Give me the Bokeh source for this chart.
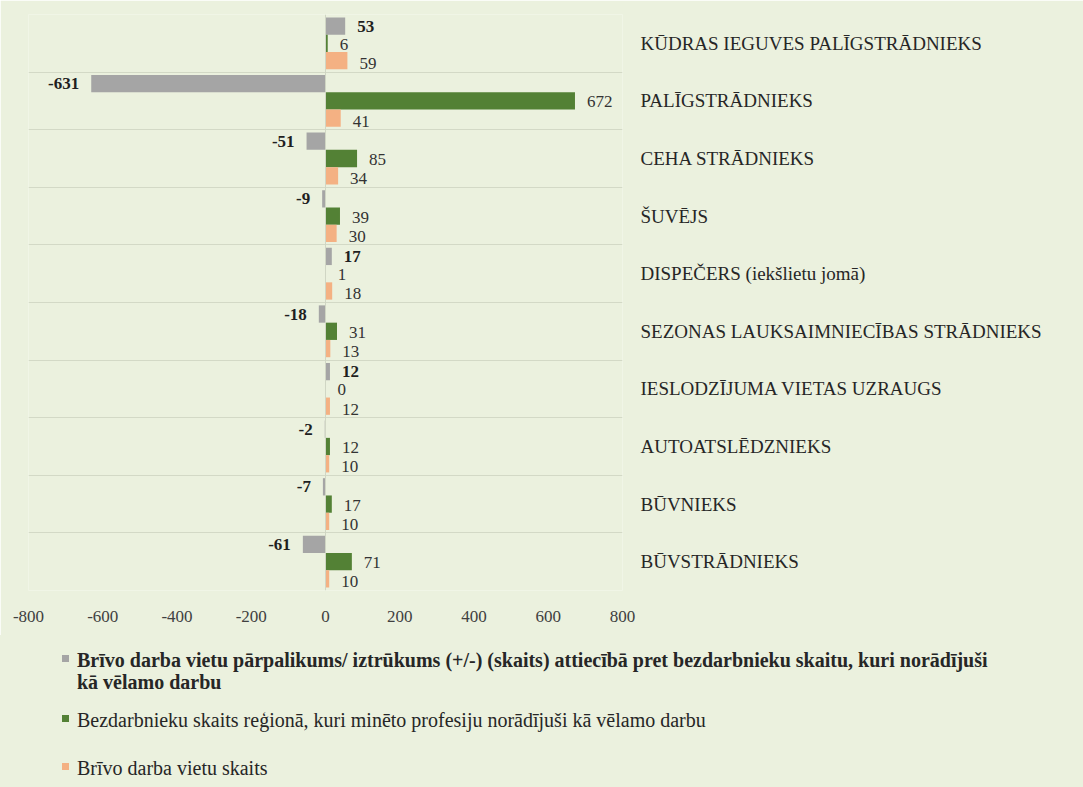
from bokeh.plotting import figure
from bokeh.models import Range1d, FixedTicker, Span, ColumnDataSource, Div
from bokeh.layouts import column
from bokeh.transform import dodge
from bokeh.embed import file_html
from bokeh.resources import INLINE
from bokeh.core.properties import value

categories = [
    "KŪDRAS IEGUVES PALĪGSTRĀDNIEKS",
    "PALĪGSTRĀDNIEKS",
    "CEHA STRĀDNIEKS",
    "ŠUVĒJS",
    "DISPEČERS (iekšlietu jomā)",
    "SEZONAS LAUKSAIMNIECĪBAS STRĀDNIEKS",
    "IESLODZĪJUMA VIETAS UZRAUGS",
    "AUTOATSLĒDZNIEKS",
    "BŪVNIEKS",
    "BŪVSTRĀDNIEKS",
]
balance = [53, -631, -51, -9, 17, -18, 12, -2, -7, -61]
unemployed = [6, 672, 85, 39, 1, 31, 0, 12, 17, 71]
vacancies = [59, 41, 34, 30, 18, 13, 12, 10, 10, 10]
x_ticks = [-800, -600, -400, -200, 0, 200, 400, 600, 800]
series_names = [
    "Brīvo darba vietu pārpalikums/ iztrūkums (+/-) (skaits) attiecībā pret bezdarbnieku skaitu, kuri norādījuši kā vēlamo darbu",
    "Bezdarbnieku skaits reģionā, kuri minēto profesiju norādījuši kā vēlamo darbu",
    "Brīvo darba vietu skaits",
]
colors = ["#A5A5A5", "#538135", "#F4B183"]

BG = "#EBF1DE"
FONT = "Liberation Serif"
W = 1083
H_MAIN = 635
H_LEG = 787 - H_MAIN

n = len(categories)
ypos = [i + 0.5 for i in range(n)]

p = figure(width=W, height=H_MAIN, x_range=Range1d(-800, 800), y_range=Range1d(n, 0),
           y_axis_location="right", output_backend="svg", toolbar_location=None,
           min_border_left=28, min_border_top=14, min_border_right=461, min_border_bottom=45)
p.background_fill_color = BG
p.border_fill_color = BG
p.outline_line_color = None
p.margin = 0

src = ColumnDataSource(dict(y=ypos, balance=balance, unemployed=unemployed, vacancies=vacancies))
offsets = [-0.3, 0.0, 0.3]
fields = ["balance", "unemployed", "vacancies"]
for f, off, c in zip(fields, offsets, colors):
    p.hbar(y=dodge("y", off, range=p.y_range), left=0, right=f, height=0.3,
           fill_color=c, line_color=None, source=src)

# data labels
label_colors = ["#1F1F1F", "#333333", "#333333"]
yoffs = [0, 1, 3]
for f, off, vals, lc, yo, bold in zip(fields, offsets, [balance, unemployed, vacancies],
                                      label_colors, yoffs, [True, False, False]):
    for sign in (1, -1):
        idx = [i for i, v in enumerate(vals) if (v >= 0 if sign == 1 else v < 0)]
        if not idx:
            continue
        s = ColumnDataSource(dict(x=[vals[i] for i in idx], y=[ypos[i] for i in idx],
                                  t=[str(vals[i]) for i in idx]))
        p.text(x="x", y=dodge("y", off, range=p.y_range), text="t", source=s,
               x_offset=12 * sign, y_offset=yo,
               text_align="left" if sign == 1 else "right", text_baseline="middle",
               text_font=value(FONT), text_font_size="17px",
               text_font_style="bold" if bold else "normal", text_color=lc)

p.add_layout(Span(location=0, dimension="height", line_color="#D0D6C4", line_width=1))

p.xgrid.visible = False
p.ygrid.ticker = FixedTicker(ticks=list(range(n + 1)))
p.ygrid.grid_line_color = "#D3D9C6"
p.ygrid.grid_line_width = 1

p.xaxis.ticker = FixedTicker(ticks=x_ticks)
p.xaxis.major_label_overrides = {t: str(t) for t in x_ticks}
p.xaxis.axis_line_color = None
p.xaxis.major_tick_line_color = None
p.xaxis.minor_tick_line_color = None
p.xaxis.major_label_text_font = FONT
p.xaxis.major_label_text_font_size = "17px"
p.xaxis.major_label_text_color = "#404040"
p.xaxis.major_label_standoff = 14

p.yaxis.ticker = FixedTicker(ticks=ypos)
p.yaxis.major_label_overrides = {y: c for y, c in zip(ypos, categories)}
p.yaxis.axis_line_color = None
p.yaxis.major_tick_line_color = None
p.yaxis.minor_tick_line_color = None
p.yaxis.major_label_text_font = FONT
p.yaxis.major_label_text_font_size = "19px"
p.yaxis.major_label_text_color = "#262626"
p.yaxis.major_label_standoff = 12

# legend panel (HTML)
tops = [14, 74, 122]
bolds = [True, False, False]
items = []
for name, c, t, b in zip(series_names, colors, tops, bolds):
    label = name
    if b:
        label = name.replace("norādījuši kā", "norādījuši<br>kā")
    items.append(
        f'<div style="position:absolute;left:62px;top:{t + 6}px;width:7px;height:7px;background:{c};"></div>'
        f'<div style="position:absolute;left:77px;top:{t}px;width:1000px;font-family:\'{FONT}\';'
        f'font-size:20px;line-height:22px;color:#262626;white-space:nowrap;'
        f'font-weight:{"bold" if b else "normal"};">{label}</div>'
    )
leg = Div(text=f'<div style="position:relative;width:{W}px;height:{H_LEG}px;background:{BG};margin:0;">'
          + "".join(items) + "</div>",
          width=W, height=H_LEG, margin=0, styles={"background-color": BG})

layout = column(p, leg, spacing=0, margin=0)
open("out.html", "w").write(file_html(layout, INLINE))
